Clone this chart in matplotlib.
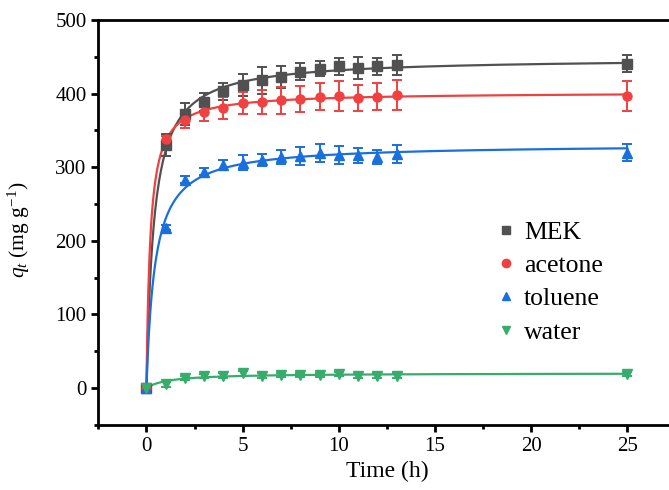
import numpy as np
import matplotlib
matplotlib.use("Agg")
import matplotlib.pyplot as plt
from matplotlib.lines import Line2D
from matplotlib.ticker import MultipleLocator

# === Données ===
time_h = [0, 1, 2, 3, 4, 5, 6, 7, 8, 9, 10, 11, 12, 13, 25]

mek = [0, 330, 373, 389, 403, 412, 418, 423, 430, 434, 437, 435, 437, 439, 441]
mek_err = [0, 15, 15, 12, 12, 15, 18, 15, 12, 10, 12, 15, 12, 13, 12]

acetone = [0, 338, 364, 375, 380, 387, 389, 391, 393, 396, 397, 394, 396, 398, 397]
acetone_err = [0, 5, 10, 12, 15, 15, 16, 18, 18, 18, 20, 18, 18, 20, 20]

toluene = [0, 218, 283, 294, 303, 306, 310, 314, 315, 319, 317, 316, 314, 318, 320]
toluene_err = [0, 3, 5, 5, 7, 10, 8, 10, 12, 12, 12, 10, 10, 12, 12]

water = [0, 5, 14, 16, 17, 20, 17, 18, 18, 18, 19, 16, 17, 17, 19]
water_err = [0, 3, 3, 3, 3, 3, 3, 3, 3, 3, 3, 3, 3, 3, 3]

labels = ["MEK", "acetone", "toluene", "water"]
colors = ["#515151", "#F14040", "#1A6FDF", "#37AD6B"]
markers = ["s", "o", "^", "v"]

# === Style ===
plt.rcParams["font.family"] = "Liberation Serif"
plt.rcParams["mathtext.fontset"] = "custom"
plt.rcParams["mathtext.rm"] = "Liberation Serif"
plt.rcParams["mathtext.it"] = "Liberation Serif:italic"


def pso(t, qe, k):
    return qe ** 2 * k * t / (1 + qe * k * t)


def pso_fit(t, q):
    # ajustement non linéaire pseudo-second ordre (recherche par grille raffinée)
    t = np.asarray(t, float)
    q = np.asarray(q, float)
    qe0 = q.max()
    qe_rng = (0.9 * qe0, 1.3 * qe0)
    lk_rng = (-5.0, 1.0)
    for _ in range(6):
        QE, LK = np.meshgrid(np.linspace(*qe_rng, 60), np.linspace(*lk_rng, 60))
        sse = ((pso(t[None, None, :], QE[..., None], 10 ** LK[..., None]) - q) ** 2).sum(-1)
        i = np.unravel_index(sse.argmin(), sse.shape)
        qe_b, lk_b = QE[i], LK[i]
        dq = (qe_rng[1] - qe_rng[0]) / 10
        dk = (lk_rng[1] - lk_rng[0]) / 10
        qe_rng = (qe_b - dq, qe_b + dq)
        lk_rng = (lk_b - dk, lk_b + dk)
    tt = np.linspace(0, 25, 800)
    return tt, pso(tt, qe_b, 10 ** lk_b)


fig = plt.figure(figsize=(6.69, 4.9), dpi=100)
ax = fig.add_axes([0.147, 0.133, 0.8627, 0.826])

series = [(mek, mek_err), (acetone, acetone_err), (toluene, toluene_err), (water, water_err)]
handles = []
for (q, err), lab, c, mk in zip(series, labels, colors, markers):
    tt, qq = pso_fit(time_h, q)
    ax.plot(tt, qq, color=c, lw=1.6, zorder=2)
    ax.errorbar(time_h, q, yerr=err, fmt=mk, color=c, ms=6.5, capsize=3.5,
                elinewidth=1.4, capthick=1.4, zorder=3)
    handles.append(Line2D([], [], ls="none", marker=mk, color=c, ms=6))

# === Axes ===
ax.set_xlim(-2.5, 27.5)
ax.set_ylim(-50, 500)
ax.xaxis.set_major_locator(MultipleLocator(5))
ax.xaxis.set_minor_locator(MultipleLocator(2.5))
ax.yaxis.set_major_locator(MultipleLocator(100))
ax.yaxis.set_minor_locator(MultipleLocator(50))
ax.tick_params(which="major", direction="out", length=5, width=2, labelsize=15)
ax.tick_params(which="minor", direction="out", length=3, width=2)
for s in ["left", "bottom", "top"]:
    ax.spines[s].set_linewidth(2)
ax.spines["right"].set_visible(False)

ax.set_xlabel("Time (h)", fontsize=17, labelpad=4)
ax.set_ylabel(r"$q_t$ (mg g$^{-1}$)", fontsize=15.5)
ax.yaxis.set_label_coords(-0.115, 0.481)

ax.legend(handles, labels, loc="upper left", bbox_to_anchor=(0.671, 0.536),
          frameon=False, fontsize=18.5, handlelength=0.6, handletextpad=0.4,
          labelspacing=0.4, borderpad=0)

fig.savefig("out.png", dpi=100)
